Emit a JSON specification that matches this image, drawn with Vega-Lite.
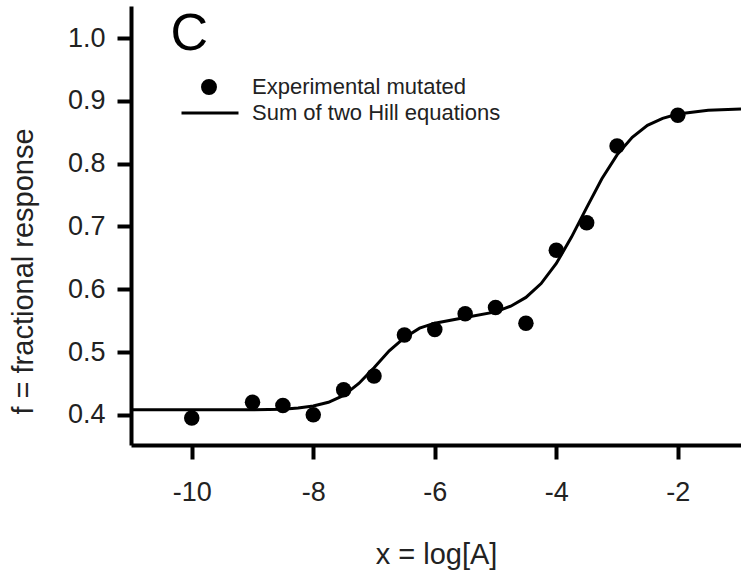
{
  "$schema": "https://vega.github.io/schema/vega-lite/v6.json",
  "width": 610,
  "height": 439,
  "autosize": {"type": "none"},
  "padding": {"left": 131, "top": 6, "right": 0, "bottom": 126},
  "background": "white",
  "config": {
    "view": {"stroke": null},
    "font": "Liberation Sans",
    "axis": {
      "grid": false,
      "domainColor": "black",
      "domainWidth": 4,
      "tickColor": "black",
      "tickWidth": 4,
      "tickSize": 14,
      "labelColor": "#222",
      "titleColor": "#222",
      "labelFontSize": 27,
      "titleFontSize": 29,
      "titleFontWeight": "normal",
      "labelFlush": false
    },
    "legend": {
      "title": null,
      "labelFontSize": 22,
      "labelColor": "#222",
      "labelFont": "Liberation Sans",
      "labelLimit": 0,
      "padding": 0,
      "orient": "none"
    }
  },
  "datasets": {
    "curve": [
      {"x": -11, "f": 0.408, "kind": "Sum of two Hill equations"}, {"x": -10, "f": 0.408, "kind": "Sum of two Hill equations"}, {"x": -9, "f": 0.408, "kind": "Sum of two Hill equations"},
      {"x": -8.5, "f": 0.409, "kind": "Sum of two Hill equations"}, {"x": -8.25, "f": 0.411, "kind": "Sum of two Hill equations"}, {"x": -8, "f": 0.414, "kind": "Sum of two Hill equations"},
      {"x": -7.75, "f": 0.42, "kind": "Sum of two Hill equations"}, {"x": -7.5, "f": 0.431, "kind": "Sum of two Hill equations"}, {"x": -7.25, "f": 0.45, "kind": "Sum of two Hill equations"},
      {"x": -7, "f": 0.475, "kind": "Sum of two Hill equations"}, {"x": -6.75, "f": 0.502, "kind": "Sum of two Hill equations"}, {"x": -6.5, "f": 0.523, "kind": "Sum of two Hill equations"},
      {"x": -6.25, "f": 0.538, "kind": "Sum of two Hill equations"}, {"x": -6, "f": 0.546, "kind": "Sum of two Hill equations"}, {"x": -5.5, "f": 0.555, "kind": "Sum of two Hill equations"},
      {"x": -5, "f": 0.564, "kind": "Sum of two Hill equations"}, {"x": -4.75, "f": 0.573, "kind": "Sum of two Hill equations"}, {"x": -4.5, "f": 0.587, "kind": "Sum of two Hill equations"},
      {"x": -4.25, "f": 0.609, "kind": "Sum of two Hill equations"}, {"x": -4, "f": 0.641, "kind": "Sum of two Hill equations"}, {"x": -3.75, "f": 0.683, "kind": "Sum of two Hill equations"},
      {"x": -3.5, "f": 0.73, "kind": "Sum of two Hill equations"}, {"x": -3.25, "f": 0.776, "kind": "Sum of two Hill equations"}, {"x": -3, "f": 0.814, "kind": "Sum of two Hill equations"},
      {"x": -2.75, "f": 0.842, "kind": "Sum of two Hill equations"}, {"x": -2.5, "f": 0.861, "kind": "Sum of two Hill equations"}, {"x": -2.25, "f": 0.872, "kind": "Sum of two Hill equations"},
      {"x": -2, "f": 0.879, "kind": "Sum of two Hill equations"}, {"x": -1.5, "f": 0.885, "kind": "Sum of two Hill equations"}, {"x": -0.96, "f": 0.887, "kind": "Sum of two Hill equations"}
    ],
    "points": [
      {"x": -10, "f": 0.395, "series": "Experimental mutated"},
      {"x": -9, "f": 0.42, "series": "Experimental mutated"},
      {"x": -8.5, "f": 0.415, "series": "Experimental mutated"},
      {"x": -8, "f": 0.4, "series": "Experimental mutated"},
      {"x": -7.5, "f": 0.44, "series": "Experimental mutated"},
      {"x": -7, "f": 0.462, "series": "Experimental mutated"},
      {"x": -6.5, "f": 0.527, "series": "Experimental mutated"},
      {"x": -6, "f": 0.536, "series": "Experimental mutated"},
      {"x": -5.5, "f": 0.561, "series": "Experimental mutated"},
      {"x": -5, "f": 0.571, "series": "Experimental mutated"},
      {"x": -4.5, "f": 0.546, "series": "Experimental mutated"},
      {"x": -4, "f": 0.662, "series": "Experimental mutated"},
      {"x": -3.5, "f": 0.706, "series": "Experimental mutated"},
      {"x": -3, "f": 0.828, "series": "Experimental mutated"},
      {"x": -2, "f": 0.877, "series": "Experimental mutated"}
    ],
    "panel": [{"x": -10.35, "f": 0.981, "label": "C"}]
  },
  "layer": [
    {
      "data": {"name": "curve"},
      "mark": {"type": "line", "strokeWidth": 3},
      "encoding": {
        "x": {
          "field": "x", "type": "quantitative",
          "scale": {"domain": [-11, -0.96], "nice": false, "zero": false},
          "axis": {
            "values": [-10, -8, -6, -4, -2],
            "labelExpr": "toString(datum.value)",
            "title": "x = log[A]",
            "titleY": 118,
            "titleBaseline": "alphabetic",
            "labelPadding": 20
          }
        },
        "y": {
          "field": "f", "type": "quantitative",
          "scale": {"domain": [0.352, 1.051], "nice": false, "zero": false},
          "axis": {
            "values": [0.4, 0.5, 0.6, 0.7, 0.8, 0.9, 1.0],
            "format": ".1f",
            "title": "f = fractional response",
            "titleX": -99,
            "titleY": 265,
            "titleAngle": -90,
            "titleAlign": "center",
            "titleBaseline": "alphabetic",
            "labelPadding": 12
          }
        },
        "color": {
          "field": "kind", "type": "nominal",
          "scale": {"range": ["black"]},
          "legend": {
            "legendX": 49,
            "legendY": 77,
            "symbolType": "stroke",
            "symbolSize": 3249,
            "symbolStrokeWidth": 3,
            "labelOffset": 12
          }
        }
      }
    },
    {
      "data": {"name": "points"},
      "mark": {"type": "point", "filled": true, "color": "black", "size": 240, "opacity": 1},
      "encoding": {
        "x": {"field": "x", "type": "quantitative"},
        "y": {"field": "f", "type": "quantitative"},
        "shape": {
          "field": "series", "type": "nominal",
          "scale": {"range": ["circle"]},
          "legend": {
            "legendX": 67,
            "legendY": 70,
            "symbolSize": 254,
            "symbolFillColor": "black",
            "symbolOpacity": 1,
            "labelOffset": 32
          }
        }
      }
    },
    {
      "data": {"name": "panel"},
      "mark": {"type": "text", "fontSize": 52, "align": "left", "baseline": "alphabetic", "color": "black", "font": "Liberation Sans"},
      "encoding": {
        "x": {"field": "x", "type": "quantitative"},
        "y": {"field": "f", "type": "quantitative"},
        "text": {"field": "label"}
      }
    }
  ]
}
